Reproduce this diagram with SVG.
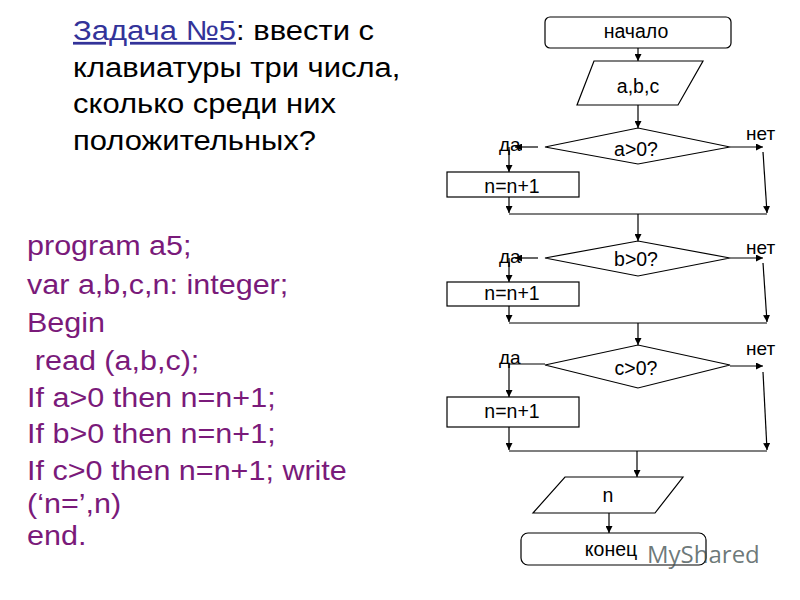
<svg xmlns="http://www.w3.org/2000/svg" width="800" height="600" viewBox="0 0 800 600">
<style>
.t{font-family:"Liberation Sans",Arial,sans-serif;fill:#000}
.h{font-size:27.5px}
.c{font-size:27.5px;fill:#7a1a7a}
.f{font-size:19.5px;text-anchor:middle}
.l{font-size:19px}
.s{fill:#fff;stroke:#000;stroke-width:1.2}
.k{fill:none;stroke:#000;stroke-width:1.2}
</style>
<defs>
<marker id="a" viewBox="0 0 10 10" refX="10" refY="5" markerWidth="7" markerHeight="7" orient="auto" markerUnits="userSpaceOnUse"><path d="M0,0L10,5L0,10z" fill="#000"/></marker>
</defs>
<rect width="800" height="600" fill="#fff"/>
<g id="title" transform="translate(73,0) scale(1.127,1)">
<text class="t h" x="0" y="40"><tspan fill="#333399" text-decoration="underline">Задача №5</tspan>: ввести с</text>
<text class="t h" x="0" y="77">клавиатуры три числа,</text>
<text class="t h" x="0" y="113">сколько среди них</text>
<text class="t h" x="0" y="150">положительных?</text>
</g>
<g id="code" transform="translate(27,0) scale(1.11,1)">
<text class="t c" x="0" y="255">program a5;</text>
<text class="t c" x="0" y="294">var a,b,c,n: integer;</text>
<text class="t c" x="0" y="332">Begin</text>
<text class="t c" x="7" y="370">read (a,b,c);</text>
<text class="t c" x="0" y="407">If a&gt;0 then n=n+1;</text>
<text class="t c" x="0" y="443">If b&gt;0 then n=n+1;</text>
<text class="t c" x="0" y="480">If c&gt;0 then n=n+1; write</text>
<text class="t c" x="0" y="513">(‘n=’,n)</text>
<text class="t c" x="0" y="545">end.</text>
</g>
<g id="connectors" class="k">
<path class="k" d="M638,48V61" marker-end="url(#a)"/>
<path class="k" d="M638,105V128" marker-end="url(#a)"/>
<path class="k" d="M538,147H515" marker-end="url(#a)"/>
<path class="k" d="M509,147V172" marker-end="url(#a)"/>
<path class="k" d="M730,147H763" marker-end="url(#a)"/>
<path class="k" d="M763,152L767,213" marker-end="url(#a)"/>
<path class="k" d="M509,197V213" marker-end="url(#a)"/>
<path class="k" d="M509,214H767"/>
<path class="k" d="M638,214V241" marker-end="url(#a)"/>
<path class="k" d="M538,258H515" marker-end="url(#a)"/>
<path class="k" d="M509,258V282" marker-end="url(#a)"/>
<path class="k" d="M730,258H763" marker-end="url(#a)"/>
<path class="k" d="M763,263L767,322" marker-end="url(#a)"/>
<path class="k" d="M509,306V322" marker-end="url(#a)"/>
<path class="k" d="M509,323H767"/>
<path class="k" d="M638,323V345" marker-end="url(#a)"/>
<path class="k" d="M545,364H509"/>
<path class="k" d="M509,364V397" marker-end="url(#a)"/>
<path class="k" d="M730,366H763" marker-end="url(#a)"/>
<path class="k" d="M763,372L767,450" marker-end="url(#a)"/>
<path class="k" d="M509,427V450" marker-end="url(#a)"/>
<path class="k" d="M509,451H767"/>
<path class="k" d="M637,451V477" marker-end="url(#a)"/>
<path class="k" d="M609,513V533" marker-end="url(#a)"/>
</g>
<g id="start"><rect class="s" x="545" y="17" width="186" height="31" rx="5"/><text class="t f" x="636" y="38">начало</text></g>
<g id="input"><path class="s" d="M594,61H703L678,105H577z"/><text class="t f" x="638" y="93">a,b,c</text></g>
<g id="condA"><path class="s" d="M545,147L638,128L730,147L638,164z"/><text class="t f" x="636" y="156">a&gt;0?</text></g>
<g id="incA"><rect class="s" x="447" y="172" width="132" height="25"/><text class="t f" x="512" y="193">n=n+1</text></g>
<g id="condB"><path class="s" d="M545,258L638,241L730,258L638,276z"/><text class="t f" x="636" y="266">b&gt;0?</text></g>
<g id="incB"><rect class="s" x="447" y="282" width="132" height="24"/><text class="t f" x="512" y="300">n=n+1</text></g>
<g id="condC"><path class="s" d="M545,365L638,345L730,365L638,388z"/><text class="t f" x="636" y="375">c&gt;0?</text></g>
<g id="incC"><rect class="s" x="447" y="397" width="132" height="30"/><text class="t f" x="512" y="418">n=n+1</text></g>
<g id="output"><path class="s" d="M565,477H683L655,513H533z"/><text class="t f" x="608" y="502">n</text></g>
<g id="end"><rect class="s" x="521" y="533" width="185" height="32" rx="7"/><text class="t f" x="611" y="556">конец</text></g>
<g id="labels">
<text class="t l" x="499" y="151">да</text><text class="t l" x="746" y="140">нет</text>
<text class="t l" x="499" y="263">да</text><text class="t l" x="746" y="254">нет</text>
<text class="t l" x="499" y="364">да</text><text class="t l" x="746" y="355">нет</text>
</g>
<text x="647" y="563" font-family="'Open Sans',sans-serif" font-size="24" fill="#3d4d4d" fill-opacity="0.75">MyShared</text>
</svg>
